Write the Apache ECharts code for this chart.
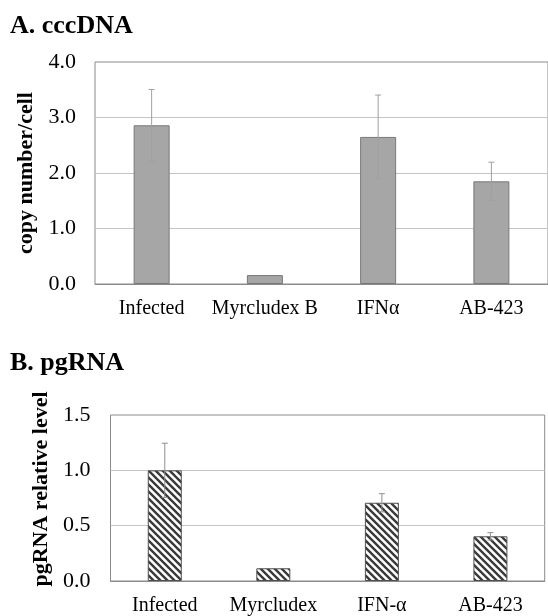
<!DOCTYPE html>
<html>
<head>
<meta charset="utf-8">
<script src="https://cdn.jsdelivr.net/npm/echarts@6/dist/echarts.min.js"></script>
<style>html,body{margin:0;padding:0;background:#fff}#c{width:548px;height:616px}</style>
</head>
<body>
<div id="c"></div>
<script>
// Panel A: cccDNA
var catsA = ['Infected', 'Myrcludex B', 'IFNα', 'AB-423'];
var cccDNA = [2.86, 0.16, 2.65, 1.85];
var cccDNAErr = [0.645, 0, 0.755, 0.345];
var ticksA = [0, 1, 2, 3, 4];
// Panel B: pgRNA
var catsB = ['Infected', 'Myrcludex', 'IFN-α', 'AB-423'];
var pgRNA = [1.0, 0.115, 0.707, 0.404];
var pgRNAErr = [0.245, 0, 0.082, 0.033];
var ticksB = [0, 0.5, 1.0, 1.5];

var FONT = "'Liberation Serif','Times New Roman',serif";

// hatch pattern (downward diagonal)
var T = 7;
var pc = document.createElement('canvas');
pc.width = T; pc.height = T;
var g = pc.getContext('2d');
g.fillStyle = '#ffffff'; g.fillRect(0, 0, T, T);
g.strokeStyle = '#3a3a3a'; g.lineWidth = 2.4;
g.beginPath();
g.moveTo(-1, -1); g.lineTo(T + 1, T + 1);
g.moveTo(-1, T - 1); g.lineTo(1, T + 1);
g.moveTo(T - 1, -1); g.lineTo(T + 1, 1);
g.stroke();

function errRender(color) {
  return function (params, api) {
    var x = api.value(0), v = api.value(1), e = api.value(2);
    if (!e) return null;
    var hi = api.coord([x, v + e]);
    var lo = api.coord([x, v - e]);
    var st = { stroke: color, lineWidth: 1 };
    return {
      type: 'group',
      children: [
        { type: 'line', shape: { x1: hi[0], y1: hi[1], x2: lo[0], y2: lo[1] }, style: st },
        { type: 'line', shape: { x1: hi[0] - 3, y1: hi[1], x2: hi[0] + 3, y2: hi[1] }, style: st },
        { type: 'line', shape: { x1: lo[0] - 3, y1: lo[1], x2: lo[0] + 3, y2: lo[1] }, style: st }
      ]
    };
  };
}

var chart = echarts.init(document.getElementById('c'), null, { renderer: 'canvas' });
chart.setOption({
  animation: false,
  backgroundColor: '#ffffff',
  title: [
    { text: 'A. cccDNA', left: 10, top: 13, padding: 0, textStyle: { fontFamily: FONT, fontSize: 26, fontWeight: 'bold', color: '#000' } },
    { text: 'B. pgRNA', left: 10, top: 350, padding: 0, textStyle: { fontFamily: FONT, fontSize: 26, fontWeight: 'bold', color: '#000' } }
  ],
  grid: [
    { left: 95, top: 62, height: 222, width: 459, show: true, borderColor: '#8a8a8a', borderWidth: 1, backgroundColor: 'transparent' },
    { left: 110.5, top: 415, height: 166, width: 434.2, show: true, borderColor: '#8a8a8a', borderWidth: 1, backgroundColor: 'transparent' }
  ],
  xAxis: [
    {
      gridIndex: 0, type: 'category', data: catsA,
      axisLine: { show: true, lineStyle: { color: '#8a8a8a' } },
      axisTick: { show: false },
      axisLabel: { interval: 0, margin: 15, fontFamily: FONT, fontSize: 20, color: '#000' }
    },
    {
      gridIndex: 1, type: 'category', data: catsB,
      axisLine: { show: true, lineStyle: { color: '#8a8a8a' } },
      axisTick: { show: false },
      axisLabel: { interval: 0, margin: 15, fontFamily: FONT, fontSize: 20, color: '#000' }
    }
  ],
  yAxis: [
    {
      gridIndex: 0, type: 'value', min: ticksA[0], max: ticksA[ticksA.length - 1], interval: 1,
      name: 'copy number/cell', nameLocation: 'middle', nameGap: 56, nameRotate: 90,
      nameTextStyle: { fontFamily: FONT, fontSize: 22, fontWeight: 'bold', color: '#000' },
      axisLine: { show: false }, axisTick: { show: false },
      splitLine: { show: true, showMinLine: false, showMaxLine: false, lineStyle: { color: '#c4c4c4' } },
      axisLabel: { margin: 19, fontFamily: FONT, fontSize: 22, color: '#000', formatter: function (v) { return v.toFixed(1); } }
    },
    {
      gridIndex: 1, type: 'value', min: ticksB[0], max: ticksB[ticksB.length - 1], interval: 0.5,
      name: 'pgRNA relative level', nameLocation: 'middle', nameGap: 55, nameRotate: 90,
      nameTextStyle: { fontFamily: FONT, fontSize: 22, fontWeight: 'bold', color: '#000', padding: [0, 0, 0, 18] },
      axisLine: { show: false }, axisTick: { show: false },
      splitLine: { show: true, showMinLine: false, showMaxLine: false, lineStyle: { color: '#c4c4c4' } },
      axisLabel: { margin: 20, fontFamily: FONT, fontSize: 22, color: '#000', formatter: function (v) { return v.toFixed(1); } }
    }
  ],
  series: [
    {
      type: 'bar', xAxisIndex: 0, yAxisIndex: 0, barWidth: 36,
      data: cccDNA,
      itemStyle: { color: '#a6a6a6', borderColor: '#787878', borderWidth: 1 }
    },
    {
      type: 'custom', xAxisIndex: 0, yAxisIndex: 0, z: 5,
      renderItem: errRender('#a0a0a0'),
      data: cccDNA.map(function (v, i) { return [i, v, cccDNAErr[i]]; })
    },
    {
      type: 'bar', xAxisIndex: 1, yAxisIndex: 1, barWidth: 34,
      data: pgRNA,
      itemStyle: { color: { image: pc, repeat: 'repeat' }, borderColor: '#505050', borderWidth: 1 }
    },
    {
      type: 'custom', xAxisIndex: 1, yAxisIndex: 1, z: 5,
      renderItem: errRender('#909090'),
      data: pgRNA.map(function (v, i) { return [i, v, pgRNAErr[i]]; })
    }
  ]
});
</script>
</body>
</html>
